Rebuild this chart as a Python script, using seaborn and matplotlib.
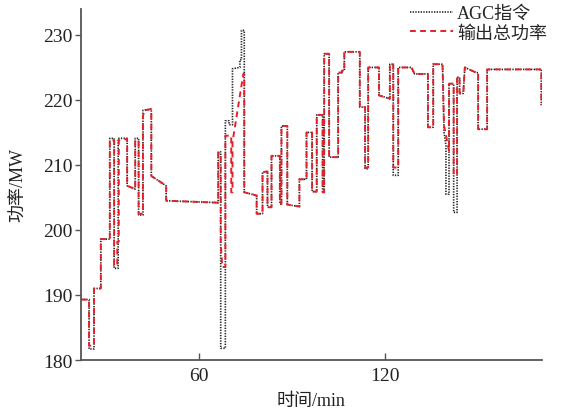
import numpy as np
import pandas as pd
import matplotlib
matplotlib.use("Agg")
import matplotlib.pyplot as plt
import seaborn as sns

# AGC command (black dotted), vertices of the step trace: time in min, power in MW
agc_t = [21.8, 24.4, 24.4, 26.0, 26.0, 28.2, 28.2, 31.1, 31.1, 32.5, 32.5, 33.8, 33.8, 36.7,
         36.7, 39.3, 39.3, 40.4, 40.4, 41.8, 41.8, 44.5, 44.5, 49.3, 49.3, 66.1, 66.1, 66.9,
         66.9, 68.4, 68.4, 69.6, 69.6, 70.7, 70.7, 73.1, 73.1, 73.6, 73.6, 74.5, 74.5, 78.5,
         78.5, 80.4, 80.4, 82.0, 82.0, 83.3, 83.3, 86.0, 86.0, 86.5, 86.5, 88.4, 88.4, 92.3,
         92.3, 94.6, 94.6, 96.4, 96.4, 97.9, 97.9, 99.8, 99.8, 100.3, 100.3, 101.9, 101.9, 104.8,
         104.8, 106.0, 106.0, 106.8, 106.8, 111.8, 111.8, 113.5, 113.5, 114.5, 114.5, 118.0,
         118.0, 121.5, 121.5, 122.6, 122.6, 124.2, 124.2, 128.5, 129.5, 133.8, 133.8, 135.5,
         135.5, 138.5, 139.0, 139.6, 139.6, 140.6, 140.6, 142.1, 142.1, 143.2, 143.2, 144.0,
         144.0, 145.2, 145.7, 149.4, 150.0, 150.0, 152.9, 152.9, 170.4, 170.4]
agc_mw = [189.3, 189.3, 181.7, 181.7, 191.0, 191.0, 198.6, 198.6, 214.1, 214.1, 194.1, 194.1, 214.1, 214.1,
          206.8, 206.3, 214.1, 214.1, 202.3, 202.3, 218.4, 218.6, 208.3, 206.8, 204.5, 204.2, 212.0, 212.0,
          181.8, 181.8, 216.8, 216.8, 216.2, 216.2, 224.8, 225.0, 226.2, 226.2, 230.7, 230.7, 205.8, 205.3,
          202.5, 202.5, 208.9, 209.0, 203.5, 203.5, 211.4, 211.4, 204.0, 204.0, 216.0, 216.0, 203.9, 203.6,
          207.8, 207.8, 215.0, 215.0, 205.9, 205.9, 217.7, 217.7, 205.8, 205.8, 227.1, 227.1, 211.2, 211.2,
          224.2, 224.2, 224.5, 224.5, 227.4, 227.4, 218.9, 218.9, 209.4, 209.4, 225.0, 225.0,
          220.7, 220.2, 225.5, 225.5, 208.4, 208.4, 225.0, 225.0, 224.0, 224.0, 215.8, 215.8,
          225.5, 225.5, 215.0, 213.0, 205.5, 205.5, 222.5, 222.5, 202.7, 202.7, 223.5, 223.5,
          221.0, 221.0, 225.0, 224.2, 224.2, 215.5, 215.5, 224.7, 224.7, 219.2]

# total output power (red dashed)
out_t = [21.8, 24.4, 24.4, 26.0, 26.0, 28.2, 28.2, 31.1, 31.1, 32.5, 32.5, 33.5, 33.5, 34.0, 34.0, 36.7,
         36.7, 39.3, 39.3, 40.4, 40.4, 41.8, 41.8, 42.3, 44.5, 44.5, 49.3, 49.3, 66.1, 66.1, 66.9,
         66.9, 67.4, 68.4, 68.4, 70.3, 70.3, 70.7, 70.7, 74.2, 74.5, 74.5, 78.5,
         78.5, 80.4, 80.4, 82.0, 82.0, 83.3, 83.3, 86.0, 86.0, 86.5, 86.5, 88.4, 88.4, 92.3,
         92.3, 94.6, 94.6, 96.4, 96.4, 97.9, 97.9, 99.8, 99.8, 100.3, 100.3, 101.9, 101.9, 104.8,
         104.8, 106.0, 106.0, 106.8, 106.8, 111.8, 111.8, 113.5, 113.5, 114.5, 114.5, 118.0,
         118.0, 121.5, 121.5, 122.6, 122.6, 124.2, 124.2, 128.5, 129.5, 133.8, 133.8, 135.5,
         135.5, 138.5, 139.0, 140.6, 140.6, 142.1, 142.1, 143.2, 143.2, 144.0,
         144.0, 145.2, 145.7, 149.4, 150.0, 150.0, 152.9, 152.9, 170.4, 170.4]
out_mw = [189.3, 189.3, 182.2, 182.2, 191.0, 191.0, 198.6, 198.6, 213.8, 213.8, 194.5, 194.5, 198.2, 198.2, 213.8, 214.0,
          206.8, 206.3, 213.8, 213.8, 202.5, 202.5, 217.5, 218.4, 218.6, 208.3, 206.8, 204.5, 204.2, 211.8, 211.8,
          198.0, 194.3, 194.3, 214.5, 214.5, 205.8, 205.8, 213.5, 224.0, 224.0, 205.8, 205.3,
          202.5, 202.5, 208.9, 209.0, 203.5, 203.5, 211.4, 211.4, 204.0, 204.0, 216.0, 216.0, 203.9, 203.6,
          207.8, 207.8, 215.0, 215.0, 205.9, 205.9, 217.7, 217.7, 205.8, 205.8, 227.1, 227.1, 211.2, 211.2,
          224.2, 224.2, 224.5, 224.5, 227.4, 227.4, 218.9, 218.9, 209.6, 209.6, 225.0, 225.0,
          220.7, 220.2, 225.5, 225.5, 209.6, 209.6, 225.0, 225.0, 224.0, 224.0, 215.8, 215.8,
          225.5, 225.5, 216.0, 212.2, 222.5, 222.5, 208.5, 208.5, 223.5, 223.5,
          221.0, 221.0, 225.0, 224.2, 224.2, 215.5, 215.5, 224.7, 224.7, 219.2]

x_ticks = [60, 120]
y_ticks = [180, 190, 200, 210, 220, 230]

sns.set_theme(style="white")
plt.rcParams['font.family'] = ['Liberation Serif', 'Noto Sans CJK SC', 'DejaVu Sans']
plt.rcParams['axes.unicode_minus'] = False

fig = plt.figure(figsize=(5.68, 4.14), dpi=100)
ax = fig.add_axes([0.1426, 0.128, 0.811, 0.848])

sns.lineplot(x=agc_t, y=agc_mw, estimator=None, sort=False, ax=ax,
             color='#222222', lw=1.2, linestyle=(0, (0.8, 0.8)), label='AGC指令')
sns.lineplot(x=out_t, y=out_mw, estimator=None, sort=False, ax=ax,
             color='#e2212b', lw=1.4, linestyle=(0, (3, 2.2)), label='输出总功率')

ax.set_xlim(21.8, 170.5)
ax.set_ylim(180, 234)
ax.set_xticks(x_ticks)
ax.set_yticks(y_ticks)
ax.tick_params(axis='y', direction='out', length=4, width=1, color='#555555',
               labelsize=14, labelcolor='#222222', pad=2, left=True)
ax.tick_params(axis='x', direction='in', length=5, width=1, color='#555555',
               labelsize=14, labelcolor='#222222', pad=5, bottom=True)
for s in ['top', 'right']:
    ax.spines[s].set_visible(False)
for s in ['left', 'bottom']:
    ax.spines[s].set_color('#555555')
    ax.spines[s].set_linewidth(1.3)

ax.set_xlabel('时间/min', fontsize=13, color='#222222')
ax.set_ylabel('功率/MW', fontsize=13, color='#222222')
ax.xaxis.set_label_coords(0.5, -0.092)
ax.yaxis.set_label_coords(-0.117, 0.5)

ax.legend(loc='upper left', bbox_to_anchor=(410 / 568, 1 - 6 / 414), bbox_transform=fig.transFigure,
          frameon=False, fontsize=13, handlelength=2.4, handletextpad=0.2,
          labelspacing=0.15, borderpad=0, borderaxespad=0)

fig.savefig('out.png', dpi=100)
